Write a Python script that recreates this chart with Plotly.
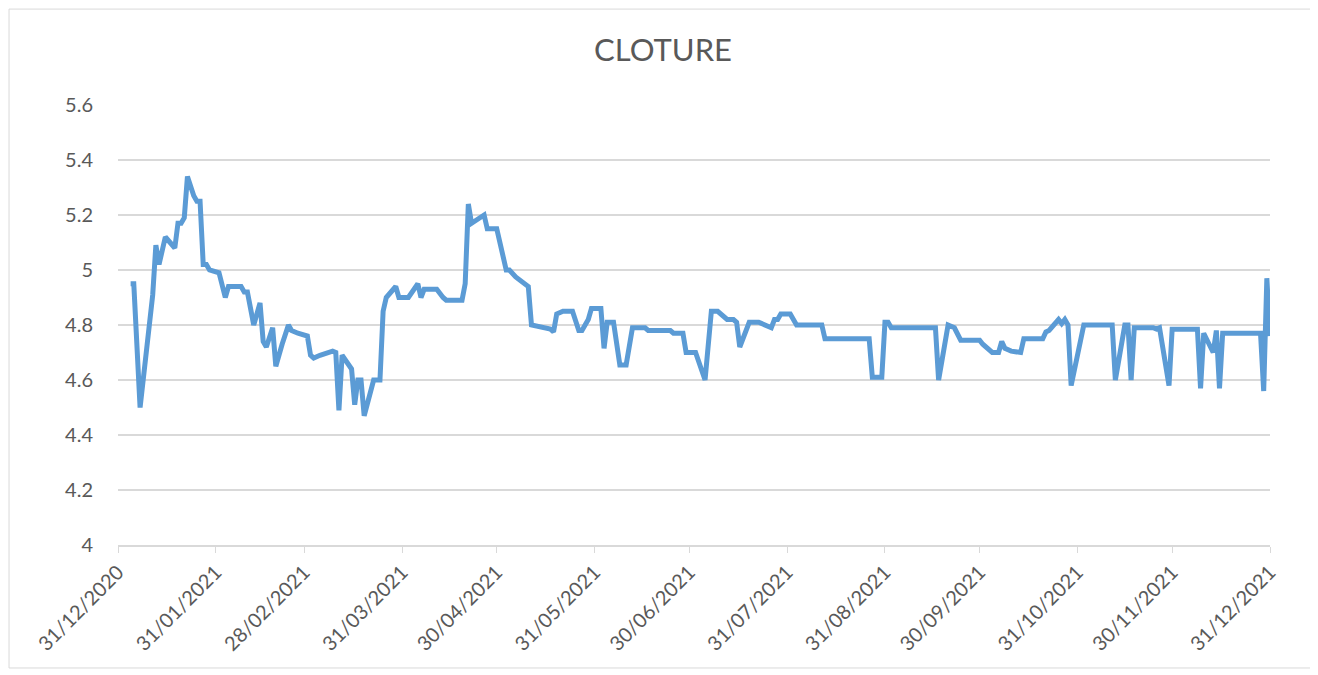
import plotly.graph_objects as go

# ============================================================
# DATA: cours de cloture
# ============================================================
dates = [
    "2021-01-04", "2021-01-05", "2021-01-07", "2021-01-09", "2021-01-11", "2021-01-12",
    "2021-01-13", "2021-01-15", "2021-01-18", "2021-01-19", "2021-01-20", "2021-01-21",
    "2021-01-22", "2021-01-24", "2021-01-25", "2021-01-26", "2021-01-27", "2021-01-28",
    "2021-01-29", "2021-02-01", "2021-02-03", "2021-02-04", "2021-02-08", "2021-02-09",
    "2021-02-10", "2021-02-12", "2021-02-14", "2021-02-15", "2021-02-16", "2021-02-18",
    "2021-02-19", "2021-02-21", "2021-02-23", "2021-02-24", "2021-02-26", "2021-03-01",
    "2021-03-02", "2021-03-03", "2021-03-05", "2021-03-09", "2021-03-10", "2021-03-11",
    "2021-03-12", "2021-03-15", "2021-03-16", "2021-03-17", "2021-03-18", "2021-03-19",
    "2021-03-22", "2021-03-24", "2021-03-25", "2021-03-26", "2021-03-29", "2021-03-30",
    "2021-04-02", "2021-04-05", "2021-04-06", "2021-04-07", "2021-04-11", "2021-04-13",
    "2021-04-14", "2021-04-19", "2021-04-20", "2021-04-21", "2021-04-22", "2021-04-26",
    "2021-04-27", "2021-04-30", "2021-05-03", "2021-05-04", "2021-05-06", "2021-05-10",
    "2021-05-11", "2021-05-17", "2021-05-18", "2021-05-19", "2021-05-21", "2021-05-24",
    "2021-05-26", "2021-05-27", "2021-05-29", "2021-05-30", "2021-06-02", "2021-06-03",
    "2021-06-04", "2021-06-06", "2021-06-08", "2021-06-10", "2021-06-12", "2021-06-16",
    "2021-06-17", "2021-06-24", "2021-06-25", "2021-06-28", "2021-06-29", "2021-07-02",
    "2021-07-05", "2021-07-07", "2021-07-09", "2021-07-12", "2021-07-14", "2021-07-15",
    "2021-07-16", "2021-07-19", "2021-07-22", "2021-07-26", "2021-07-27", "2021-07-28",
    "2021-07-29", "2021-08-01", "2021-08-03", "2021-08-11", "2021-08-12", "2021-08-26",
    "2021-08-27", "2021-08-30", "2021-08-31", "2021-09-01", "2021-09-02", "2021-09-16",
    "2021-09-17", "2021-09-20", "2021-09-22", "2021-09-24", "2021-09-30", "2021-10-01",
    "2021-10-04", "2021-10-06", "2021-10-07", "2021-10-08", "2021-10-10", "2021-10-13",
    "2021-10-14", "2021-10-20", "2021-10-21", "2021-10-22", "2021-10-25", "2021-10-26",
    "2021-10-27", "2021-10-28", "2021-10-29", "2021-11-02", "2021-11-11", "2021-11-12",
    "2021-11-15", "2021-11-16", "2021-11-17", "2021-11-18", "2021-11-24", "2021-11-25",
    "2021-11-26", "2021-11-29", "2021-11-30", "2021-12-08", "2021-12-09", "2021-12-10",
    "2021-12-13", "2021-12-14", "2021-12-15", "2021-12-16", "2021-12-28", "2021-12-29",
    "2021-12-30", "2021-12-31",
]

cloture = [
    4.95, 4.95, 4.50, 4.70, 4.91, 5.09,
    5.02, 5.12, 5.08, 5.17, 5.17, 5.19,
    5.34, 5.27, 5.25, 5.25, 5.02, 5.02,
    5.00, 4.99, 4.90, 4.94, 4.94, 4.92,
    4.92, 4.80, 4.88, 4.74, 4.72, 4.79,
    4.65, 4.73, 4.80, 4.78, 4.77, 4.76,
    4.69, 4.68, 4.69, 4.705, 4.70, 4.49,
    4.69, 4.64, 4.51, 4.60, 4.60, 4.47,
    4.60, 4.60, 4.85, 4.90, 4.94, 4.90,
    4.90, 4.95, 4.90, 4.93, 4.93, 4.90,
    4.89, 4.89, 4.95, 5.24, 5.17, 5.20,
    5.15, 5.15, 5.00, 5.00, 4.975, 4.94,
    4.80, 4.785, 4.775, 4.84, 4.85, 4.85,
    4.78, 4.78, 4.82, 4.86, 4.86, 4.715,
    4.81, 4.81, 4.655, 4.655, 4.79, 4.79,
    4.78, 4.78, 4.77, 4.77, 4.70, 4.70,
    4.60, 4.85, 4.85, 4.82, 4.82, 4.81,
    4.72, 4.81, 4.81, 4.79, 4.82, 4.82,
    4.84, 4.84, 4.80, 4.80, 4.75, 4.75,
    4.61, 4.61, 4.81, 4.81, 4.79, 4.79,
    4.60, 4.80, 4.79, 4.745, 4.745, 4.73,
    4.70, 4.70, 4.74, 4.715, 4.705, 4.70,
    4.75, 4.75, 4.775, 4.78, 4.82, 4.805,
    4.82, 4.80, 4.58, 4.80, 4.80, 4.60,
    4.80, 4.80, 4.60, 4.79, 4.79, 4.785,
    4.79, 4.58, 4.785, 4.785, 4.57, 4.77,
    4.70, 4.78, 4.57, 4.77, 4.77, 4.56,
    4.97, 4.76,
]

tick_dates = [
    "2020-12-31", "2021-01-31", "2021-02-28", "2021-03-31", "2021-04-30", "2021-05-31",
    "2021-06-30", "2021-07-31", "2021-08-31", "2021-09-30", "2021-10-31", "2021-11-30",
    "2021-12-31",
]
tick_labels = [
    "31/12/2020", "31/01/2021", "28/02/2021", "31/03/2021", "30/04/2021", "31/05/2021",
    "30/06/2021", "31/07/2021", "31/08/2021", "30/09/2021", "31/10/2021", "30/11/2021",
    "31/12/2021",
]

GRIS_TEXTE = "#595959"
GRIS_GRILLE = "#d9d9d9"

# ============================================================
# FIGURE
# ============================================================
fig = go.Figure()

fig.add_trace(go.Scatter(
    x=dates,
    y=cloture,
    mode="lines",
    line=dict(color="#5b9bd5", width=5),
    showlegend=False,
))

# cadre du graphique (style Excel)
fig.add_shape(
    type="rect", xref="paper", yref="paper",
    x0=-0.0946, x1=1.0365, y0=-0.2795, y1=1.218,
    line=dict(color=GRIS_GRILLE, width=1),
    layer="below",
)

# la page html ajoute ~8px de marge : on compense dans les marges
fig.update_layout(
    title=dict(
        text="CLOTURE",
        x=0.497, xref="container", xanchor="center",
        y=0.938, yref="container", yanchor="middle",
        font=dict(family="Lato", size=31, color=GRIS_TEXTE),
    ),
    width=1318,
    height=675,
    margin=dict(l=110, r=56, t=97, b=138),
    plot_bgcolor="white",
    paper_bgcolor="white",
    font=dict(family="Lato", size=20, color=GRIS_TEXTE),
    xaxis=dict(
        type="date",
        range=["2020-12-31", "2021-12-31"],
        tickvals=tick_dates,
        ticktext=tick_labels,
        tickangle=-45,
        showgrid=False,
        showline=True,
        linecolor=GRIS_GRILLE,
        linewidth=1.5,
        ticks="outside",
        ticklen=6,
        tickcolor=GRIS_GRILLE,
        zeroline=False,
    ),
    yaxis=dict(
        range=[4, 5.6],
        dtick=0.2,
        tick0=4,
        showgrid=True,
        gridcolor=GRIS_GRILLE,
        gridwidth=1.5,
        showline=False,
        zeroline=False,
        # ticks invisibles pour eloigner les etiquettes de l'axe
        ticks="outside",
        ticklen=20,
        tickcolor="rgba(0,0,0,0)",
    ),
)

fig.write_html("out.html")
